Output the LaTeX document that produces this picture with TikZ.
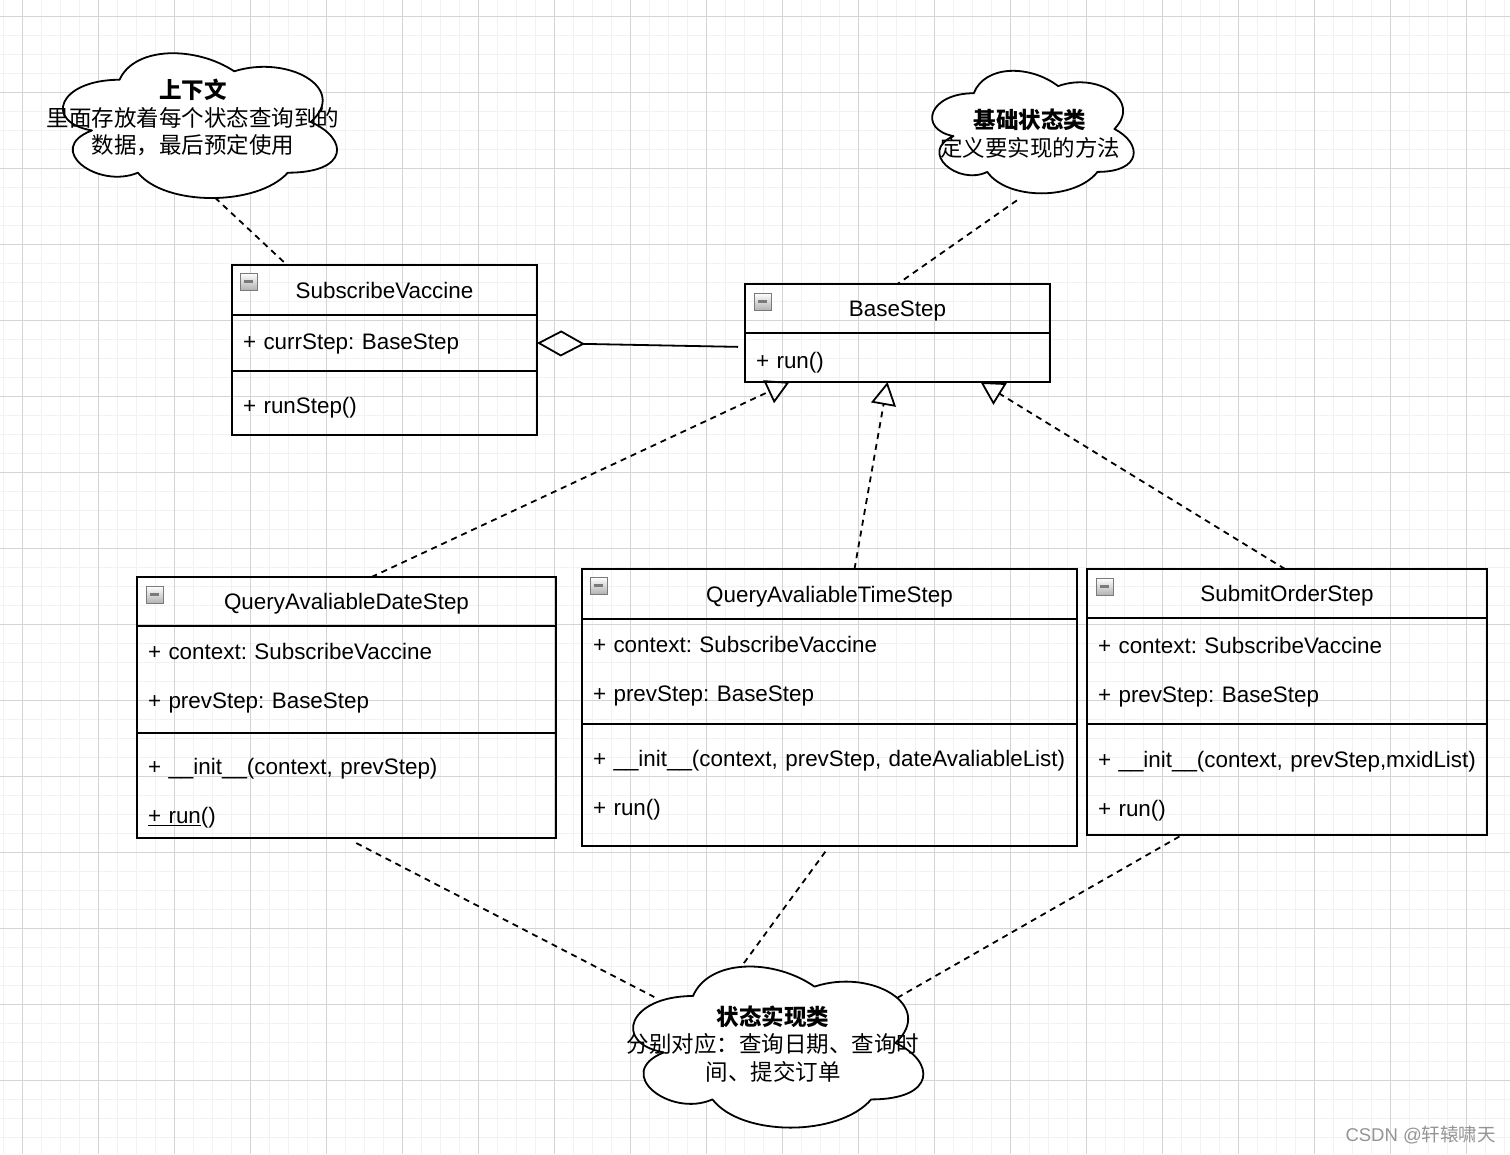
\documentclass[tikz,border=0pt]{standalone}
\usepackage{fontspec}
\setmainfont{Liberation Sans}
\newfontfamily\cjk{Noto Sans CJK SC}
\usetikzlibrary{positioning,shapes.geometric,arrows.meta}
\frenchspacing

\definecolor{gridminor}{HTML}{F2F2F2}
\definecolor{gridmajor}{HTML}{D4D4D4}
\definecolor{iconedge}{HTML}{7A7A7A}

\tikzset{
  umlfont/.style={font=\fontsize{22.4}{49.5}\selectfont},
  classtitle/.style={draw, line width=1.8pt, outer sep=0pt, inner sep=0pt, text height=16pt, text depth=0pt, umlfont},
  members/.style={draw, line width=1.8pt, outer sep=0pt, inner xsep=11pt, inner ysep=0pt, align=left, umlfont},
  minusbox/.style={draw=iconedge, line width=1pt, top color=white, bottom color=black!30,
    minimum size=17pt, inner sep=0pt, outer sep=0pt,
    path picture={\draw[line width=2.2pt] ([xshift=-4.5pt]path picture bounding box.center) -- ([xshift=4.5pt]path picture bounding box.center);}},
  cloudarea/.style={ellipse, inner sep=0pt},
  cloudline/.style={draw, fill=white, line width=1.8pt, line join=round},
  notetext/.style={align=center, font=\cjk\fontsize{22.5}{27.5}\selectfont},
  dep/.style={line width=1.8pt, dash pattern=on 6pt off 5pt},
  real/.style={dep, -{Triangle[open, length=23pt, width=25pt]}},
  aggr/.style={line width=1.8pt, -{Diamond[open, length=48pt, width=26pt]}},
}

% cloud outline round a node: name, width, height
\newcommand\drawcloud[3]{%
  \path[cloudline, shift={(#1.center)}, xscale=#2, yscale=#3]
    (-0.25,-0.25) .. controls (-0.45,-0.25) and (-0.5,0) .. (-0.34,0.05)
    .. controls (-0.5,0.16) and (-0.32,0.4) .. (-0.19,0.3)
    .. controls (-0.1,0.5) and (0.2,0.5) .. (0.3,0.3)
    .. controls (0.5,0.3) and (0.5,0.1) .. (0.375,0)
    .. controls (0.5,-0.2) and (0.3,-0.4) .. (0.125,-0.3)
    .. controls (0,-0.45) and (-0.2,-0.45) .. (-0.25,-0.25) -- cycle;}

\begin{document}
\begin{tikzpicture}[x=1pt, y=-1pt]
  \useasboundingbox (0,0) rectangle (1510,1154);

  % grid
  \foreach \i in {0,...,79} \draw[gridminor, line width=1pt] ({3.3+19*\i},0) -- ({3.3+19*\i},1154);
  \foreach \j in {0,...,59} \draw[gridminor, line width=1pt] (0,{16+19*\j}) -- (1510,{16+19*\j});
  \foreach \i in {0,...,19} \draw[gridmajor, line width=1pt] ({22.3+76*\i},0) -- ({22.3+76*\i},1154);
  \foreach \j in {0,...,14} \draw[gridmajor, line width=1pt] (0,{16+76*\j}) -- (1510,{16+76*\j});

  % notes
  \node[cloudarea, minimum width=274pt, minimum height=145pt] (ctx) at (196,122) {};
  \drawcloud{ctx}{306}{169}
  \node[notetext] (ctxtext) at (193,117.5) {{\bfseries 上下文}\\里面存放着每个状态查询到的\\数据，最后预定使用};

  \node[cloudarea, minimum width=204pt, minimum height=124pt] (basenote) at (1030,129) {};
  \drawcloud{basenote}{225}{143}
  \node[notetext] (basetext) at (1030,133.5) {{\bfseries 基础状态类}\\定义要实现的方法};

  \node[cloudarea, minimum width=290pt, minimum height=162pt] (implnote) at (774,1043) {};
  \drawcloud{implnote}{324}{188}
  \node[notetext] (impltext) at (773,1044) {{\bfseries 状态实现类}\\分别对应：查询日期、查询时\\间、提交订单};

  % classes
  \node[classtitle, minimum width=305pt, minimum height=50pt] (sv) at (384.5,290) {SubscribeVaccine};
  \node[members, text width=283pt, text height=34pt, text depth=22pt, below=0pt of sv] (svattr) {+ currStep: BaseStep};
  \node[members, text width=283pt, text height=42pt, text depth=22pt, below=0pt of svattr] (svops) {+ runStep()};
  \node[minusbox, below right=8pt and 8pt of sv.north west] (svicon) {};

  \node[classtitle, minimum width=305pt, minimum height=49pt] (bs) at (897.5,308.5) {BaseStep};
  \node[members, text width=283pt, text height=35pt, text depth=14pt, below=0pt of bs] (bsops) {+ run()};
  \node[minusbox, below right=9pt and 9pt of bs.north west] (bsicon) {};

  \node[classtitle, minimum width=419pt, minimum height=49pt] (qdate) at (346.5,601.5) {QueryAvaliableDateStep};
  \node[members, text width=397pt, text height=33pt, text depth=74pt, below=0pt of qdate] (qdateattr) {+ context: SubscribeVaccine\\+ prevStep: BaseStep};
  \node[members, text width=397pt, text height=41pt, text depth=64pt, below=0pt of qdateattr] (qdateops) {+ \_\_init\_\_(context, prevStep)\\\underline{+ run}()};
  \node[minusbox, below right=9pt and 9pt of qdate.north west] (qdateicon) {};

  \node[classtitle, minimum width=495pt, minimum height=50pt] (qtime) at (829.5,594) {QueryAvaliableTimeStep};
  \node[members, text width=473pt, text height=33pt, text depth=72pt, below=0pt of qtime] (qtimeattr) {+ context: SubscribeVaccine\\+ prevStep: BaseStep};
  \node[members, text width=473pt, text height=42pt, text depth=80pt, below=0pt of qtimeattr] (qtimeops) {\mbox{+ \_\_init\_\_(context, prevStep, dateAvaliableList)}\\+ run()};
  \node[minusbox, below right=8pt and 8pt of qtime.north west] (qtimeicon) {};

  \node[classtitle, minimum width=400pt, minimum height=49pt] (submit) at (1287,593.5) {SubmitOrderStep};
  \node[members, text width=378pt, text height=35pt, text depth=71pt, below=0pt of submit] (subattr) {+ context: SubscribeVaccine\\+ prevStep: BaseStep};
  \node[members, text width=378pt, text height=43pt, text depth=68pt, below=0pt of subattr] (subops) {\mbox{+ \_\_init\_\_(context, prevStep,mxidList)}\\+ run()};
  \node[minusbox, below right=9pt and 9pt of submit.north west] (subicon) {};

  % connectors
  \draw[dep, shorten <=5pt] (ctx.-78) -- ([xshift=55pt]sv.north west);
  \draw[dep, shorten <=16pt] (basenote.south) -- (bs.north);
  \draw[aggr, shorten <=7pt] ([yshift=-14pt]bs.south west) -- (svattr.east);
  \draw[real] ([xshift=25pt]qdate.north) -- ([xshift=-108pt]bsops.south);
  \draw[real] ([xshift=25pt]qtime.north) -- ([xshift=-10pt]bsops.south);
  \draw[real] ([xshift=-2pt]submit.north) -- ([xshift=83pt]bsops.south);
  \draw[dep, shorten <=11pt] (qdateops.south) -- (implnote.159);
  \draw[dep, shorten <=7pt] (qtimeops.south) -- (implnote.111);
  \draw[dep, shorten <=3pt] ([xshift=-105pt]subops.south) -- (implnote.20);

  \node[anchor=west, text=black!42, font=\fontsize{18.5}{18.5}\selectfont] (mark) at (1342,1135) {CSDN @{\cjk 轩辕啸天}};
\end{tikzpicture}
\end{document}
